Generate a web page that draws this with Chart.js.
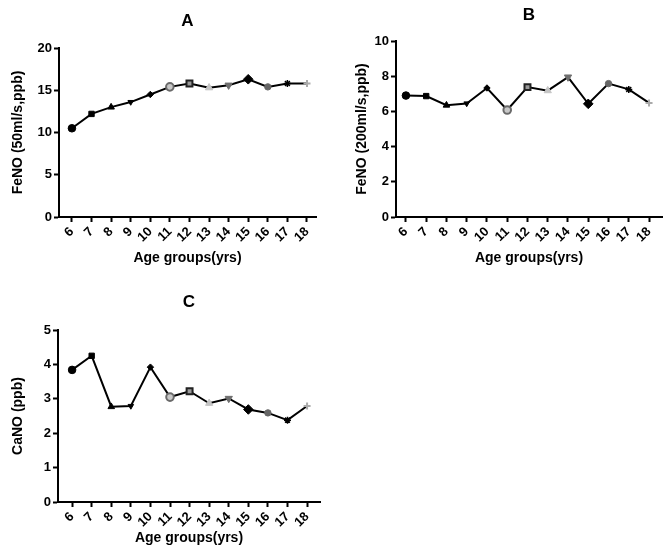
<!DOCTYPE html>
<html>
<head>
<meta charset="utf-8">
<script src="https://cdn.jsdelivr.net/npm/chart.js@4"></script>
<style>
  body { margin: 0; background: #fff; }
  .wrap { position: absolute; }
</style>
</head>
<body>
<div class="wrap" style="left:0;top:0"><canvas id="chart-a" width="330" height="280"></canvas></div>
<div class="wrap" style="left:330px;top:0"><canvas id="chart-b" width="339" height="280"></canvas></div>
<div class="wrap" style="left:0;top:280px"><canvas id="chart-c" width="330" height="275"></canvas></div>
<script>
// age groups on the x axis
const ages = [6, 7, 8, 9, 10, 11, 12, 13, 14, 15, 16, 17, 18];

// values
const fenoA = [10.5, 12.2, 13.0, 13.6, 14.5, 15.4, 15.8, 15.3, 15.6, 16.3, 15.4, 15.8, 15.8];
const fenoB = [6.9, 6.87, 6.35, 6.45, 7.33, 6.08, 7.38, 7.18, 7.95, 6.43, 7.58, 7.25, 6.48];
const canoC = [3.84, 4.25, 2.77, 2.79, 3.92, 3.05, 3.22, 2.87, 3.01, 2.69, 2.59, 2.38, 2.79];

const ticksA = [0, 5, 10, 15, 20];
const ticksB = [0, 2, 4, 6, 8, 10];
const ticksC = [0, 1, 2, 3, 4, 5];

// one marker per age group, like the original figure
const markerStyle = ['circle', 'rect', 'triangle', 'triangle', 'rectRot', 'circle', 'rect', 'triangle', 'triangle', 'rectRot', 'circle', 'star', 'cross'];
const markerRotation = [0, 0, 0, 180, 0, 0, 0, 0, 180, 0, 0, 0, 0];
const markerFill = ['#000', '#000', '#000', '#000', '#000', '#c8c8c8', '#9a9a9a', '#c4c4c4', '#6e6e6e', '#000', '#666', '#000', '#aaa'];
const markerBorder = ['#000', '#000', '#000', '#000', '#000', '#6a6a6a', '#222', '#c4c4c4', '#6e6e6e', '#000', '#666', '#000', '#aaa'];
const markerRadius = [3.8, 3.8, 3.8, 3.2, 3.2, 3.8, 4.2, 4.2, 4.2, 4.8, 3.2, 3.5, 3.5];
const markerBorderWidth = [1, 1, 1, 1, 1, 2, 2, 1, 1, 1, 1, 1.5, 2];

const fontFamily = '"Liberation Sans", Arial, sans-serif';

// panel letter centred over the plot area (the built-in title centres on the whole canvas)
const panelTitle = {
    id: 'panelTitle',
    afterDraw(chart, args, opts) {
        const { ctx, chartArea } = chart;
        ctx.save();
        ctx.fillStyle = '#000';
        ctx.font = 'bold 17px ' + fontFamily;
        ctx.textAlign = 'center';
        ctx.textBaseline = 'middle';
        ctx.fillText(opts.text, (chartArea.left + chartArea.right) / 2, opts.y);
        ctx.restore();
    }
};

function makeChart(id, opts) {
    const ctx = document.getElementById(id).getContext('2d');
    return new Chart(ctx, {
        type: 'line',
        plugins: [panelTitle],
        data: {
            datasets: [{
                data: ages.map((a, i) => ({ x: a, y: opts.values[i] })),
                borderColor: '#000',
                borderWidth: 2,
                tension: 0,
                pointStyle: markerStyle,
                pointRotation: markerRotation,
                pointBackgroundColor: markerFill,
                pointBorderColor: markerBorder,
                pointRadius: markerRadius,
                pointBorderWidth: markerBorderWidth
            }]
        },
        options: {
            responsive: false,
            animation: false,
            layout: { padding: opts.padding },
            plugins: {
                legend: { display: false },
                tooltip: { enabled: false },
                title: { display: false },
                panelTitle: { text: opts.title, y: opts.titleY }
            },
            scales: {
                x: {
                    type: 'linear',
                    min: opts.xMin,
                    max: opts.xMax,
                    afterBuildTicks: scale => { scale.ticks = ages.map(v => ({ value: v })); },
                    afterFit: scale => { scale.height = opts.xHeight; },
                    grid: { display: true, drawOnChartArea: false, drawTicks: true, tickLength: 5, tickWidth: 2, color: '#000' },
                    border: { display: true, color: '#000', width: 2 },
                    ticks: {
                        color: '#000',
                        autoSkip: false,
                        minRotation: 45,
                        maxRotation: 45,
                        padding: 2,
                        font: { family: fontFamily, size: 13, weight: 'bold' }
                    },
                    title: {
                        display: true,
                        text: 'Age groups(yrs)',
                        color: '#000',
                        font: { family: fontFamily, size: 14, weight: 'bold' },
                        padding: { top: 2, bottom: 0 }
                    }
                },
                y: {
                    min: opts.yTicks[0],
                    max: opts.yTicks[opts.yTicks.length - 1],
                    afterBuildTicks: scale => { scale.ticks = opts.yTicks.map(v => ({ value: v })); },
                    afterFit: scale => { scale.width = opts.yWidth; },
                    grid: { display: true, drawOnChartArea: false, drawTicks: true, tickLength: 5, tickWidth: 2, color: '#000' },
                    border: { display: true, color: '#000', width: 2 },
                    ticks: {
                        color: '#000',
                        padding: 2,
                        font: { family: fontFamily, size: 13, weight: 'bold' }
                    },
                    title: {
                        display: true,
                        text: opts.yTitle,
                        color: '#000',
                        font: { family: fontFamily, size: 14, weight: 'bold' },
                        padding: { top: 0, bottom: 6 }
                    }
                }
            }
        }
    });
}

makeChart('chart-a', {
    title: 'A', titleY: 21, yTitle: 'FeNO (50ml/s,ppb)', values: fenoA, yTicks: ticksA,
    xMin: 5.34, xMax: 18.46, yWidth: 49, xHeight: 50,
    padding: { left: 10, right: 14, top: 48, bottom: 13 }
});

makeChart('chart-b', {
    title: 'B', titleY: 15, yTitle: 'FeNO (200ml/s,ppb)', values: fenoB, yTicks: ticksB,
    xMin: 5.51, xMax: 18.64, yWidth: 42, xHeight: 50,
    padding: { left: 24, right: 7, top: 41, bottom: 13 }
});

makeChart('chart-c', {
    title: 'C', titleY: 22, yTitle: 'CaNO (ppb)', values: canoC, yTicks: ticksC,
    xMin: 5.28, xMax: 18.66, yWidth: 48, xHeight: 45,
    padding: { left: 10, right: 10, top: 50, bottom: 8 }
});
</script>
</body>
</html>
